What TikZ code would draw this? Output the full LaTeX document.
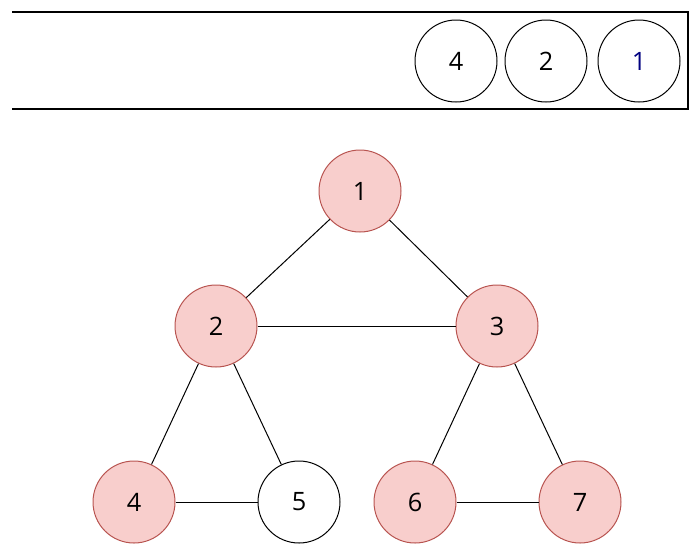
\documentclass[tikz,border=0pt]{standalone}
\usepackage{fontspec}
\setmainfont{Open Sans}
\definecolor{nfill}{HTML}{F8CECC}
\definecolor{nline}{HTML}{B85450}
\definecolor{navy}{HTML}{000080}
\begin{document}
\begin{tikzpicture}[x=0.75pt,y=-0.75pt,
  vtx/.style={circle,draw=black,fill=white,line width=0.75pt,minimum size=61.5pt,inner sep=0pt,font=\fontsize{19}{21}\selectfont},
  red/.style={vtx,draw=nline,fill=nfill},
  edge/.style={draw=black,line width=0.75pt}]
\useasboundingbox (0,0) rectangle (696,551);
\draw[line width=0.9pt] (12,12) -- (688,12) -- (688,109) -- (12,109);
\node[vtx] (q4) at (456,61) {4};
\node[vtx] (q2) at (546,61) {2};
\node[vtx,text=navy] (q1) at (639,61) {1};
\node[red] (n1) at (360,191) {1};
\node[red] (n2) at (216,326) {2};
\node[red] (n3) at (497,326) {3};
\node[red] (n4) at (134,502) {4};
\node[vtx] (n5) at (299,502) {5};
\node[red] (n6) at (415,502) {6};
\node[red] (n7) at (580,502) {7};
\draw[edge] (n1) -- (n2);
\draw[edge] (n1) -- (n3);
\draw[edge] (n2) -- (n3);
\draw[edge] (n2) -- (n4);
\draw[edge] (n2) -- (n5);
\draw[edge] (n3) -- (n6);
\draw[edge] (n3) -- (n7);
\draw[edge] (n4) -- (n5);
\draw[edge] (n6) -- (n7);
\end{tikzpicture}
\end{document}
